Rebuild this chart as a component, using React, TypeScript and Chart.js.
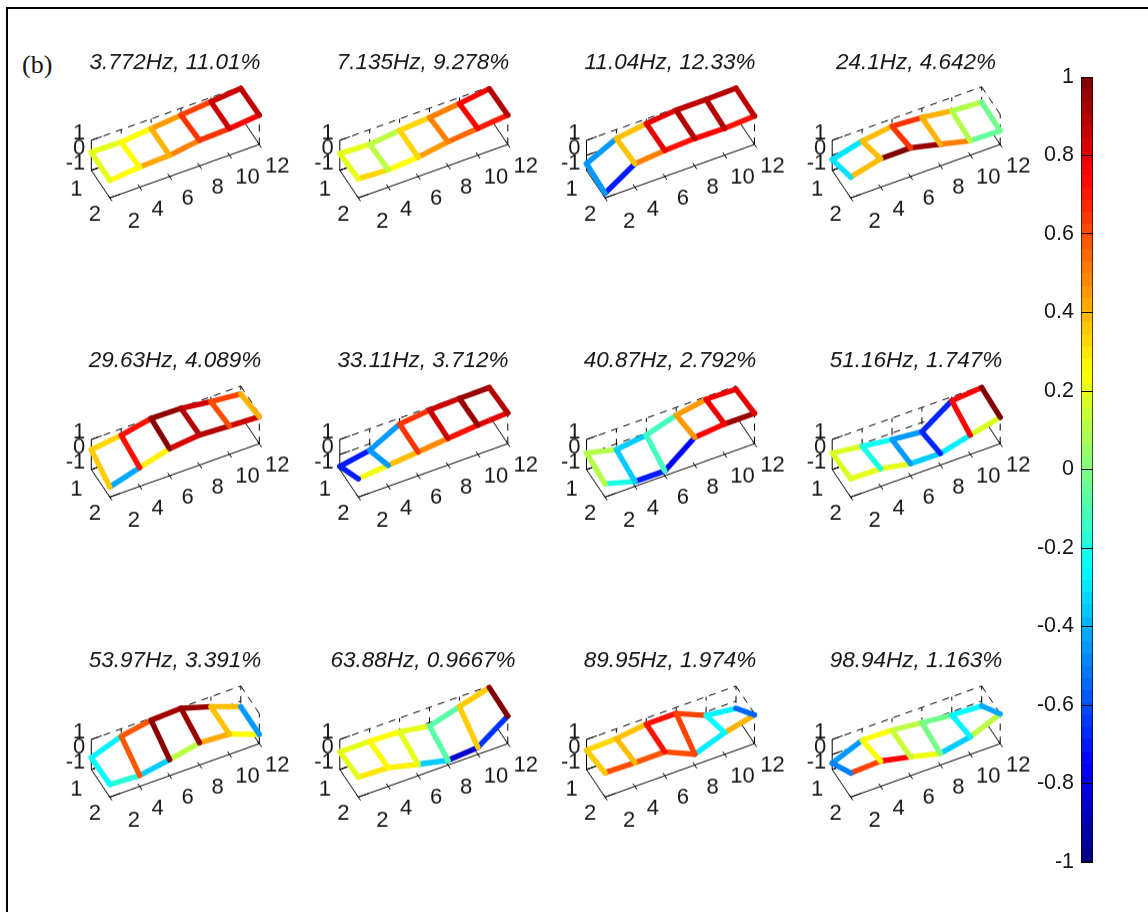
import React, { useEffect, useRef } from "react";
import { Chart, registerables } from "chart.js";

Chart.register(...registerables);

const titles = [
  "3.772Hz, 11.01%", "7.135Hz, 9.278%", "11.04Hz, 12.33%", "24.1Hz, 4.642%",
  "29.63Hz, 4.089%", "33.11Hz, 3.712%", "40.87Hz, 2.792%", "51.16Hz, 1.747%",
  "53.97Hz, 3.391%", "63.88Hz, 0.9667%", "89.95Hz, 1.974%", "98.94Hz, 1.163%",
];

const xNodes = [2, 4, 6, 8, 10, 12];
const yTicks = [1, 2];
const zTicks = [-1, 0, 1];
const colorbarTicks = [-1, -0.8, -0.6, -0.4, -0.2, 0, 0.2, 0.4, 0.6, 0.8, 1];

// mode shape heights, rail y=1 (rear)
const zRear = [
  [0.21, 0.17, 0.35, 0.54, 0.72, 0.9],
  [0.11, 0.02, 0.24, 0.38, 0.6, 0.87],
  [-0.56, 0.4, 0.69, 0.87, 0.87, 0.91],
  [-0.29, 0.24, 0.51, 0.38, 0.11, -0.02],
  [0.32, 0.57, 0.98, 0.94, 0.67, 0.48],
  [-0.79, -0.43, 0.6, 0.82, 0.89, 0.9],
  [0.1, -0.38, -0.14, 0.49, 0.83, 0.79],
  [0.1, -0.16, -0.42, -0.62, 0.74, 0.9],
  [-0.21, 0.5, 0.86, 0.94, 0.34, -0.37],
  [0.17, 0.17, 0.09, -0.24, 0.34, 0.9],
  [0.28, 0.35, 0.6, 0.6, -0.24, -0.48],
  [-0.57, 0.24, 0.2, -0.02, -0.22, -0.32],
];
// mode shape heights, rail y=2 (front)
const zFront = [
  [0.16, 0.34, 0.41, 0.7, 0.77, 0.96],
  [0.27, 0.16, 0.29, 0.6, 0.78, 0.96],
  [-0.69, 0.56, 0.73, 0.82, 0.78, 0.89],
  [0.38, 0.89, 0.91, 0.44, -0.04, -0.09],
  [-0.33, 0.25, 0.8, 1.0, 0.89, 0.8],
  [0.22, 0.4, 0.58, 0.77, 0.95, 1.05],
  [-0.11, -0.67, -0.68, 0.84, 1.02, 1.02],
  [0.22, 0.18, -0.2, -0.23, 0.28, 0.76],
  [-0.16, -0.27, 0.07, 0.48, 0.35, -0.38],
  [0.33, 0.25, -0.24, -0.68, -0.54, 0.84],
  [0.62, 0.58, 0.59, -0.28, 0.44, 0.91],
  [0.6, 0.69, 0.25, -0.23, 0.17, 0.98],
];
// edge colour values
const cRear = [
  [0.2, 0.25, 0.45, 0.62, 0.85],
  [0.2, 0.12, 0.33, 0.5, 0.75],
  [-0.45, 0.37, 0.8, 0.88, 0.9],
  [-0.3, 0.38, 0.65, 0.4, 0.1],
  [0.33, 0.72, 0.97, 0.85, 0.62],
  [-0.7, -0.45, 0.65, 0.85, 0.95],
  [0.1, -0.35, -0.12, 0.45, 0.78],
  [0.18, -0.22, -0.45, -0.68, 0.75],
  [-0.27, 0.58, 0.93, 0.95, 0.38],
  [0.2, 0.25, 0.2, -0.08, 0.35],
  [0.33, 0.37, 0.72, 0.62, -0.27],
  [-0.45, 0.24, 0.12, -0.03, -0.25],
];
const cFront = [
  [0.25, 0.42, 0.5, 0.65, 0.75],
  [0.33, 0.25, 0.45, 0.55, 0.7],
  [-0.7, 0.5, 0.72, 0.75, 0.72],
  [0.38, 1, 0.95, 0.5, -0.05],
  [-0.42, 0.28, 0.82, 0.9, 0.85],
  [0.22, 0.38, 0.48, 0.72, 0.8],
  [-0.2, -0.7, -0.75, 0.75, 0.95],
  [0.2, 0.2, -0.35, -0.28, 0.18],
  [-0.17, -0.35, 0.12, 0.42, 0.25],
  [0.3, 0.28, -0.35, -0.85, -0.65],
  [0.6, 0.58, 0.6, -0.28, 0.4],
  [0.62, 0.75, 0.22, -0.35, 0.12],
];
const cRung = [
  [0.2, 0.25, 0.4, 0.65, 0.85, 0.88],
  [0.2, 0.12, 0.33, 0.5, 0.75, 0.9],
  [-0.45, 0.37, 0.8, 0.9, 0.9, 0.88],
  [-0.3, 0.38, 0.65, 0.4, 0.1, -0.03],
  [0.35, 0.72, 0.98, 0.9, 0.6, 0.4],
  [-0.7, -0.45, 0.65, 0.85, 0.95, 0.9],
  [0.1, -0.35, -0.12, 0.45, 0.78, 0.8],
  [0.18, -0.2, -0.45, -0.68, 0.75, 1],
  [-0.25, 0.58, 0.98, 0.95, 0.37, -0.45],
  [0.2, 0.26, 0.2, -0.08, 0.35, 1],
  [0.35, 0.38, 0.72, 0.62, -0.25, -0.55],
  [-0.5, 0.25, 0.15, -0.02, -0.27, -0.42],
];

const FONT = "'Liberation Sans', Arial, sans-serif";
const INK = "#161616";
const RAIL = 5.4;

// page layout
const cornerX = [109.8, 358.3, 605, 850.7];
const cornerY = [197.5, 496.7, 796.7];
const titleY = [62, 360, 660];

// oblique view of the 3D box
const proj = (x: number, y: number, z: number) => ({
  x: (x - 2) * 14.95 + (y - 2) * 18.5,
  y: (x - 2) * 5.33 - (y - 2) * 27.5 + (z + 1) * 15,
});

function jet(v: number) {
  const t = (v + 1) / 2;
  const ch = (c: number) => Math.round(255 * Math.max(0, Math.min(1, 1.5 - Math.abs(4 * t - c))));
  return `rgb(${ch(3)},${ch(2)},${ch(1)})`;
}

const line = (pts: { x: number; y: number }[], color: string, width: number, dash: number[] = [], extra = {}) => ({
  data: pts,
  showLine: true,
  borderColor: color,
  borderWidth: width,
  borderDash: dash,
  pointRadius: 0,
  tension: 0,
  clip: false,
  fill: false,
  ...extra,
});

function buildDatasets(i: number) {
  const out: any[] = [];
  // first in the list is drawn last: ladder, white faces, box
  xNodes.forEach((x, k) => {
    out.push(line([proj(x, 1, zRear[i][k]), proj(x, 2, zFront[i][k])], jet(cRung[i][k]), RAIL, [], { borderCapStyle: "round" }));
  });
  for (let k = 0; k < 5; k++) {
    out.push(line([proj(xNodes[k], 1, zRear[i][k]), proj(xNodes[k + 1], 1, zRear[i][k + 1])], jet(cRear[i][k]), RAIL, [], { borderCapStyle: "round" }));
    out.push(line([proj(xNodes[k], 2, zFront[i][k]), proj(xNodes[k + 1], 2, zFront[i][k + 1])], jet(cFront[i][k]), RAIL, [], { borderCapStyle: "round" }));
  }
  for (let k = 0; k < 5; k++) {
    out.push({
      data: [
        proj(xNodes[k], 1, zRear[i][k]),
        proj(xNodes[k + 1], 1, zRear[i][k + 1]),
        proj(xNodes[k + 1], 2, zFront[i][k + 1]),
        proj(xNodes[k], 2, zFront[i][k]),
        proj(xNodes[k], 1, zRear[i][k]),
      ],
      showLine: true,
      borderWidth: 0,
      borderColor: "rgba(0,0,0,0)",
      backgroundColor: "#ffffff",
      fill: "shape",
      pointRadius: 0,
      tension: 0,
      clip: false,
    });
  }
  const d = [7, 6];
  // axes
  out.push(line([proj(2, 2, -1), proj(12, 2, -1)], "#000", 1));
  out.push(line([proj(2, 1, -1), proj(2, 2, -1)], "#000", 1));
  out.push(line([proj(2, 1, -1), proj(2, 1, 1)], "#000", 1));
  out.push(line([proj(12, 1, -1), proj(12, 2, -1)], "#000", 1));
  xNodes.forEach((x) => out.push(line([proj(x, 1.9, -1), proj(x, 2.12, -1)], "#000", 1)));
  yTicks.forEach((y) => out.push(line([proj(2, y, -1), proj(2.7, y, -1)], "#000", 1)));
  zTicks.forEach((z) => out.push(line([proj(2, 1, z), proj(2.7, 1, z)], "#000", 1)));
  // dashed box and grid
  zTicks.forEach((z) => out.push(line([proj(2, 1, z), proj(12, 1, z)], "#000", 1, d)));
  xNodes.slice(1).forEach((x) => out.push(line([proj(x, 1, -1), proj(x, 1, 1)], "#000", 1, d)));
  out.push(line([proj(12, 1, 1), proj(12, 2, 1)], "#000", 1, d));
  out.push(line([proj(12, 2, -1), proj(12, 2, 1)], "#000", 1, d));
  return out;
}

const axisLabels = {
  id: "axisLabels",
  afterDraw(chart: any) {
    const { ctx, scales } = chart;
    const put = (txt: string, p: { x: number; y: number }, dx: number, dy: number, align: CanvasTextAlign) => {
      ctx.textAlign = align;
      ctx.fillText(txt, scales.x.getPixelForValue(p.x) + dx, scales.y.getPixelForValue(p.y) + dy);
    };
    ctx.save();
    ctx.font = `22px ${FONT}`;
    ctx.fillStyle = INK;
    ctx.textBaseline = "middle";
    xNodes.forEach((x) => put(String(x), proj(x, 2, -1), x === 2 ? 24 : 18, x === 2 ? 24 : 22, "center"));
    yTicks.forEach((y) => put(String(y), proj(2, y, -1), -15, y === 1 ? 19.5 : 17, "center"));
    zTicks.forEach((z) => put(String(z), proj(2, 1, z), -6, -7, "right"));
    ctx.restore();
  },
};

function Panel({ index }: { index: number }) {
  const ref = useRef<HTMLCanvasElement>(null);
  const col = index % 4;
  const row = Math.floor(index / 4);
  const W = 240;
  const AREA = 190;
  const HEAD = 32.5;
  const left = Math.round(cornerX[col]) - 55;
  const top = titleY[row] - 11;
  const xMin = left - cornerX[col];
  const yMax = cornerY[row] - (top + HEAD);
  useEffect(() => {
    const chart = new Chart(ref.current as HTMLCanvasElement, {
      type: "scatter",
      data: { datasets: buildDatasets(index) },
      plugins: [axisLabels],
      options: {
        animation: false,
        responsive: false,
        devicePixelRatio: 1,
        events: [],
        layout: { padding: 0 },
        scales: {
          x: { type: "linear", display: false, min: xMin, max: xMin + W },
          y: { type: "linear", display: false, min: yMax - AREA, max: yMax },
        },
        plugins: {
          legend: { display: false },
          tooltip: { enabled: false },
          title: {
            display: true,
            text: titles[index],
            color: INK,
            font: { family: FONT, size: 22.5, style: "italic", weight: "normal", lineHeight: 1 },
            padding: { top: 0, bottom: 10 },
          },
        },
      },
    } as any);
    return () => chart.destroy();
  }, [index]);
  return (
    <canvas
      ref={ref}
      width={W}
      height={HEAD + AREA}
      style={{ position: "absolute", left, top, width: W, height: HEAD + AREA }}
    />
  );
}

function Colorbar() {
  const ref = useRef<HTMLCanvasElement>(null);
  useEffect(() => {
    const chart = new Chart(ref.current as HTMLCanvasElement, {
      type: "bar",
      data: {
        labels: ["modal value"],
        datasets: [
          {
            data: [[-1, 1]],
            barPercentage: 1,
            categoryPercentage: 1,
            borderColor: "#000",
            borderWidth: 1,
            borderSkipped: false,
            backgroundColor: (c: any) => {
              const a = c.chart.chartArea;
              if (!a) return "#000";
              const g = c.chart.ctx.createLinearGradient(0, a.bottom, 0, a.top);
              const n = 64;
              for (let j = 0; j < n; j++) {
                const col = jet(-1 + (2 * (j + 0.5)) / n);
                g.addColorStop(j / n, col);
                g.addColorStop((j + 1) / n, col);
              }
              return g;
            },
          },
        ],
      },
      options: {
        animation: false,
        responsive: false,
        devicePixelRatio: 1,
        events: [],
        layout: { padding: { top: 17, bottom: 18, right: 7, left: 0 } },
        scales: {
          x: { display: false },
          y: {
            min: -1,
            max: 1,
            afterBuildTicks: (s: any) => {
              s.ticks = colorbarTicks.map((value) => ({ value }));
            },
            afterFit: (s: any) => {
              s.width = 61;
              s.paddingTop = 0;
              s.paddingBottom = 0;
            },
            grid: { color: "#000", z: 1, drawTicks: false, lineWidth: 1 },
            border: { display: false },
            ticks: {
              padding: 7,
              color: INK,
              font: { family: FONT, size: 21.5 },
              callback: (v: any) => String(+Number(v).toFixed(1)),
            },
          },
        },
        plugins: { legend: { display: false }, tooltip: { enabled: false }, title: { display: false } },
      },
    } as any);
    return () => chart.destroy();
  }, []);
  return (
    <canvas
      ref={ref}
      width={80}
      height={820}
      style={{ position: "absolute", left: 1020, top: 60, width: 80, height: 820 }}
    />
  );
}

export default function App() {
  return (
    <div style={{ position: "fixed", left: 0, top: 0, width: 1148, height: 912, overflow: "hidden", background: "#fff" }}>
      <div style={{ position: "absolute", left: 6, top: 7, width: 1300, height: 1300, border: "2px solid #000" }} />
      <div style={{ position: "absolute", left: 22, top: 50, font: "26px 'Liberation Serif', serif", color: INK, lineHeight: "30px" }}>(b)</div>
      {titles.map((_, i) => (
        <Panel key={i} index={i} />
      ))}
      <Colorbar />
    </div>
  );
}
